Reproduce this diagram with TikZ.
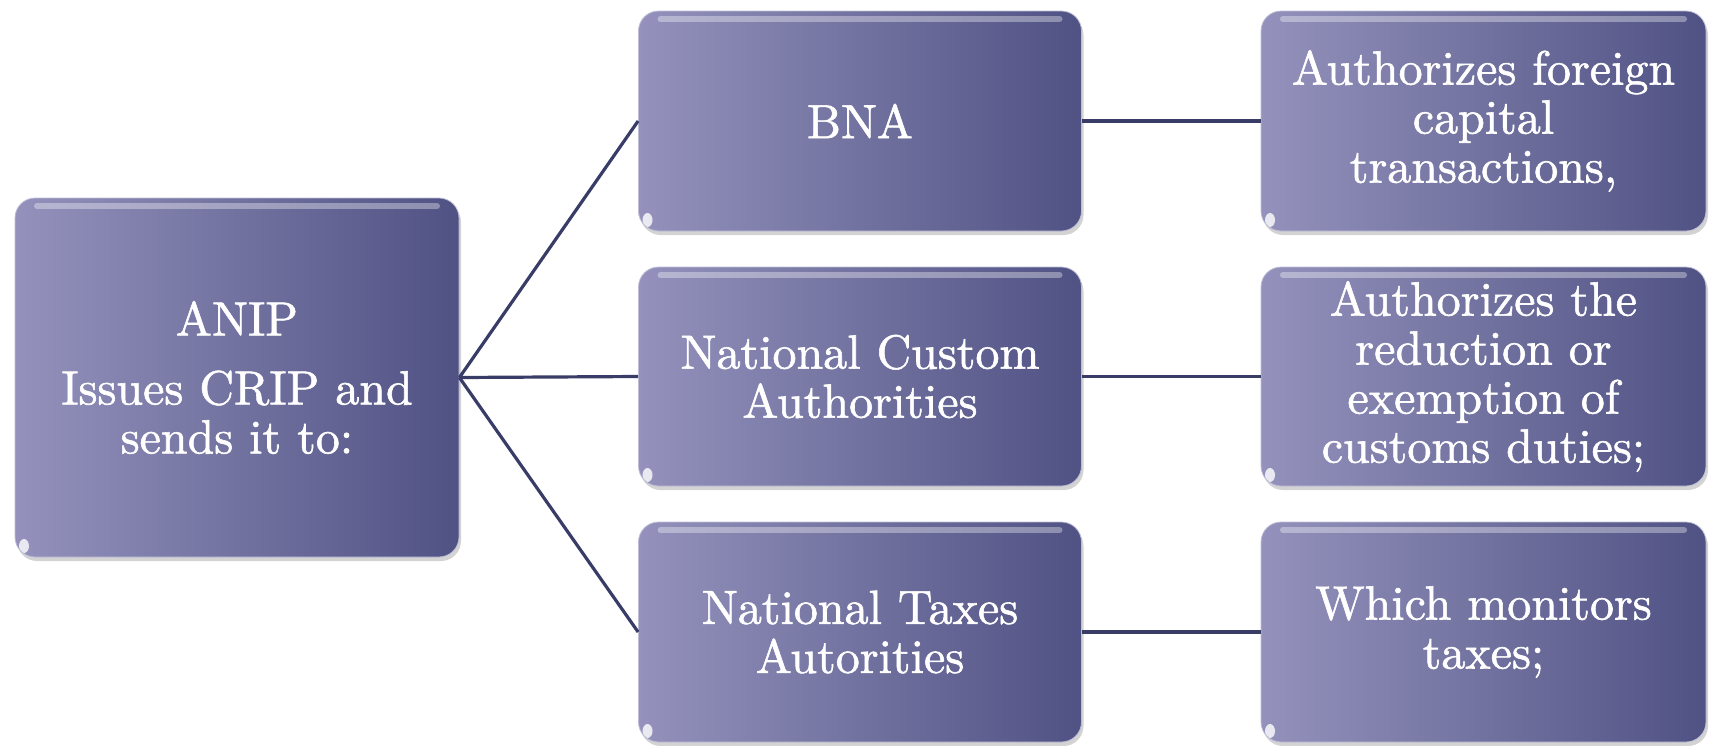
\documentclass[tikz,border=0pt]{standalone}
\usepackage{fontspec}
\newfontfamily\cardfont{lmroman10-regular.otf}[FakeBold=1.2]
\usetikzlibrary{shadows}
\definecolor{boxlight}{RGB}{148,146,188}
\definecolor{boxdark}{RGB}{80,82,132}
\definecolor{connclr}{RGB}{58,60,104}
\tikzset{
  card/.style={rectangle, rounded corners=20pt, inner sep=0pt,
    left color=boxlight, right color=boxdark,
    draw=boxlight!60!white, line width=0.8pt,
    drop shadow={opacity=0.35, shadow xshift=2pt, shadow yshift=-4pt},
    text=white, align=center,
    font=\cardfont\fontsize{48}{49}\selectfont,
    path picture={
      \draw[white, opacity=0.35, line width=6pt, line cap=round]
        ([xshift=22pt,yshift=-8pt]path picture bounding box.north west) --
        ([xshift=-22pt,yshift=-8pt]path picture bounding box.north east);
      \fill[white, opacity=0.8]
        ([xshift=9pt,yshift=11pt]path picture bounding box.south west) ellipse (5pt and 7pt);
    }},
  conn/.style={draw=connclr, line width=3.2pt}
}
\begin{document}
\begin{tikzpicture}[x=1pt,y=-1pt]
\useasboundingbox (0,0) rectangle (1712,745);
\node[card, minimum width=444pt, minimum height=359pt] (anip) at (237,377.5)
  {ANIP\\[20pt]Issues CRIP and\\sends it to:};
\node[card, minimum width=443pt, minimum height=220pt] (bna) at (860,121) {BNA};
\node[card, minimum width=443pt, minimum height=219pt] (nca) at (860,376.5)
  {National Custom\\Authorities};
\node[card, minimum width=443pt, minimum height=220pt] (nta) at (860,632)
  {National Taxes\\Autorities};
\node[card, minimum width=445pt, minimum height=220pt] (r1) at (1483.5,121)
  {Authorizes foreign\\capital\\transactions,};
\node[card, minimum width=445pt, minimum height=219pt] (r2) at (1483.5,376.5)
  {Authorizes the\\reduction or\\exemption of\\customs duties;};
\node[card, minimum width=445pt, minimum height=220pt] (r3) at (1483.5,632)
  {Which monitors\\taxes;};
\draw[conn] (anip.east) -- (bna.west);
\draw[conn] (anip.east) -- (nca.west);
\draw[conn] (anip.east) -- (nta.west);
\draw[conn] (bna.east) -- (r1.west);
\draw[conn] (nca.east) -- (r2.west);
\draw[conn] (nta.east) -- (r3.west);
\end{tikzpicture}
\end{document}
